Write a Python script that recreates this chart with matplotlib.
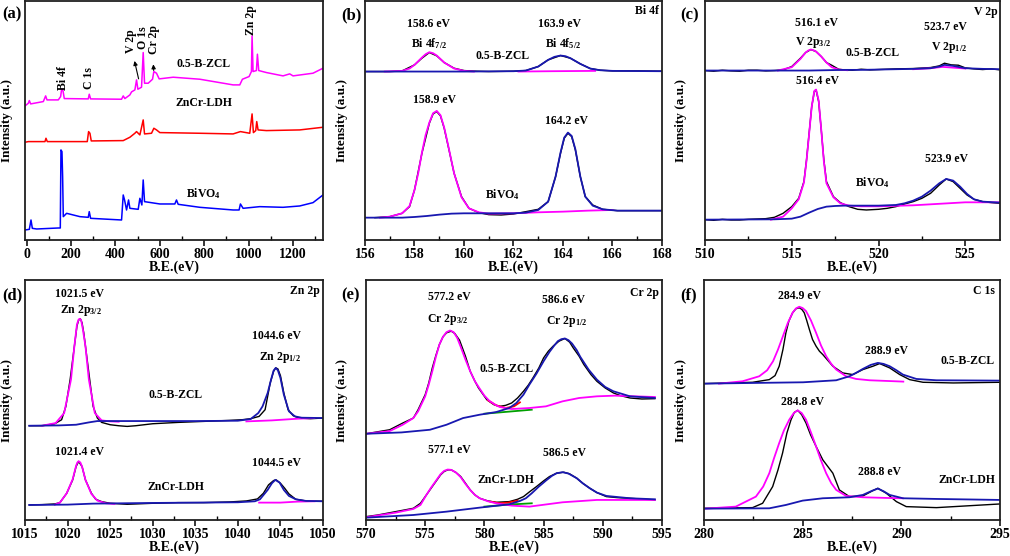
'''
XPS spectra: survey + high resolution Bi 4f, V 2p, Zn 2p, Cr 2p, C 1s.
Values read off the published figure (intensity in arbitrary units).
'''

import numpy as np
import matplotlib
matplotlib.use('Agg')
import matplotlib.pyplot as plt
from matplotlib.ticker import MultipleLocator

plt.rcParams['font.family'] = ['Liberation Serif', 'DejaVu Serif']
plt.rcParams['font.weight'] = 'bold'
plt.rcParams['axes.labelweight'] = 'bold'
plt.rcParams['mathtext.fontset'] = 'custom'
plt.rcParams['mathtext.rm'] = 'Liberation Serif:bold'
plt.rcParams['mathtext.it'] = 'Liberation Serif:bold'
plt.rcParams['mathtext.bf'] = 'Liberation Serif:bold'
plt.rcParams['mathtext.default'] = 'rm'

MAG = '#ff00ff'
BLU = '#1818b0'
RED = '#ff0000'

#%% survey (a)
survey_zcl = [(-7.5, 402), (7.5, 410), (12, 418), (18, 408), (75, 415), (85.5, 432), (91.5, 420),
              (142.5, 420), (153, 430), (157.5, 452), (163.5, 448), (169.5, 424), (277.5, 423),
              (282, 437), (288, 423), (427.5, 422), (435, 432), (442.5, 424), (465, 435),
              (472.5, 444), (487.5, 450), (495, 480), (501, 452), (517.5, 458), (525, 562),
              (531, 470), (547.5, 470), (567, 482), (573, 505), (585, 500), (597, 483),
              (660, 488), (780, 482), (930, 465), (960, 465), (972, 482), (1002, 490),
              (1012.5, 505), (1015.5, 612), (1020, 505), (1035, 508), (1039.5, 557), (1045.5, 508),
              (1080, 502), (1155, 492), (1185, 498), (1200, 492), (1290, 500), (1335, 515)]
survey_ldh = [(-7.5, 293), (7.5, 295), (82.5, 295), (87, 305), (93, 295), (273, 295), (279, 325),
              (285, 320), (291, 297), (435, 298), (465, 308), (487.5, 320), (495, 325), (510, 315),
              (525, 360), (531, 318), (562.5, 320), (573, 335), (585, 330), (600, 322), (780, 320),
              (930, 318), (963, 325), (1005, 320), (1015.5, 378), (1021.5, 322), (1032, 328),
              (1036.5, 355), (1042.5, 330), (1080, 328), (1230, 330), (1335, 338)]
survey_bvo = [(-7.5, 30), (12, 32), (19.5, 60), (25.5, 35), (45, 33), (142.5, 36), (151.5, 36),
              (154.5, 270), (159, 265), (162, 190), (165, 70), (180, 80), (240, 70), (277.5, 68),
              (282, 85), (288, 65), (427.5, 60), (435, 135), (441, 120), (450, 90), (459, 120),
              (465, 95), (502.5, 92), (510, 125), (519, 105), (525, 180), (531, 115), (600, 108),
              (667.5, 108), (675, 120), (682.5, 107), (780, 98), (930, 90), (957, 90), (963, 108),
              (975, 95), (1050, 100), (1155, 98), (1230, 102), (1290, 112), (1335, 135)]

#%% Bi 4f (b)
bi_zcl_raw = [(156.0, 505), (157.0, 505), (157.5, 507), (158.0, 525), (158.3, 545), (158.6, 562),
              (158.9, 552), (159.2, 532), (159.6, 515), (160.0, 508), (160.5, 506), (161.0, 505),
              (162.0, 506), (162.5, 508), (163.0, 520), (163.4, 540), (163.9, 553), (164.3, 545),
              (164.7, 528), (165.1, 514), (165.5, 509), (166.0, 507), (167.0, 507), (168.0, 506)]
bi_zcl_mag = [(156.8, 505), (157.5, 507), (157.8, 514), (158.0, 525), (158.3, 547), (158.45, 557),
              (158.6, 563), (158.75, 560), (158.9, 553), (159.2, 532), (159.6, 514), (160.0, 507),
              (160.4, 505), None, (162.2, 505), (163.5, 506), (165.3, 507)]
bi_zcl_blu = [(156.0, 505), (160.0, 505), (162.0, 506), (162.5, 508), (163.0, 520), (163.4, 540),
              (163.65, 549), (163.9, 553), (164.1, 551), (164.3, 545), (164.7, 528), (165.1, 514),
              (165.5, 509), (166.0, 507), (168.0, 506)]
bi_bvo_raw = [(156.4, 67), (157.0, 70), (157.5, 80), (157.8, 100), (158.0, 150), (158.3, 260),
              (158.6, 350), (158.75, 378), (158.9, 385), (159.05, 372), (159.2, 335), (159.35, 285),
              (159.6, 200), (159.9, 130), (160.2, 95), (160.6, 82), (161.0, 76), (161.5, 75),
              (162.0, 78), (162.5, 85), (163.0, 92), (163.4, 115), (163.7, 190), (163.9, 260),
              (164.05, 305), (164.2, 320), (164.35, 310), (164.5, 270), (164.7, 190), (164.9, 130),
              (165.2, 105), (165.6, 92), (166.2, 88), (167.0, 88), (168.0, 88)]
bi_bvo_mag = [(156.6, 67), (157.0, 70), (157.5, 80), (157.8, 102), (158.0, 150), (158.15, 200),
              (158.3, 262), (158.45, 315), (158.6, 352), (158.75, 380), (158.9, 387), (159.05, 374),
              (159.2, 337), (159.35, 287), (159.6, 200), (159.9, 128), (160.2, 95), (160.6, 83),
              (161.0, 79), (162.0, 80), (163.0, 83), (164.0, 85), (165.0, 88), (166.0, 90)]
bi_bvo_blu = [(156.0, 67), (157.5, 67), (158.0, 69), (158.5, 72), (159.0, 76), (159.5, 79),
              (160.0, 80), (161.0, 80), (162.0, 80), (162.5, 82), (163.0, 90), (163.4, 115),
              (163.7, 190), (163.9, 262), (164.05, 307), (164.2, 322), (164.35, 312), (164.5, 272),
              (164.7, 190), (164.9, 130), (165.2, 103), (165.6, 92), (166.2, 88), (167.0, 88),
              (168.0, 88)]

#%% V 2p (c)
v_zcl_raw = [(510, 508), (510.5, 506), (511, 509), (511.5, 507), (512, 506), (512.5, 509),
             (513, 509), (513.5, 507), (514, 508), (514.5, 510), (515, 520), (515.5, 545),
             (515.8, 562), (516.1, 571), (516.4, 565), (516.7, 550), (517.0, 532), (517.3, 524),
             (517.7, 512), (518, 510), (518.5, 509), (519, 512), (519.5, 510), (520, 511),
             (521, 513), (522, 514), (523, 517), (523.5, 522), (523.8, 530), (524.2, 525),
             (524.6, 524), (525, 516), (525.5, 513), (526, 511), (526.5, 513), (527, 510)]
v_zcl_mag = [(514.2, 508), (515.0, 518), (515.5, 543), (515.8, 562), (515.95, 568), (516.1, 571),
             (516.25, 569), (516.4, 565), (516.7, 550), (517.0, 532), (517.3, 518), (517.7, 511),
             (518.2, 509), None, (522.0, 512), (523.0, 515), (523.7, 519), (524.5, 516),
             (525.0, 514)]
v_zcl_blu = [(510, 508), (514, 508), (516, 508), (517, 509), (518, 510), (519, 510), (520, 511),
             (522, 513), (523, 515), (523.5, 520), (523.8, 525), (524.3, 522), (525, 515),
             (526, 513), (527, 512)]
v_bvo_raw = [(510, 61), (510.5, 59), (511, 62), (511.5, 60), (512, 60), (512.5, 62), (513, 63),
             (513.5, 64), (514, 68), (514.5, 80), (515, 100), (515.4, 125), (515.7, 175),
             (515.85, 240), (516.0, 320), (516.15, 400), (516.3, 445), (516.4, 450), (516.55, 415),
             (516.7, 330), (516.85, 240), (517.0, 175), (517.4, 130), (517.8, 112), (518.3, 100),
             (518.8, 92), (519.3, 90), (520, 92), (520.5, 95), (521, 100), (521.5, 108),
             (522, 115), (522.5, 125), (523, 140), (523.5, 165), (523.9, 183), (524.3, 175),
             (524.7, 155), (525.1, 135), (525.5, 122), (526, 115), (526.5, 112), (527, 110)]
v_bvo_mag = [(513.8, 61), (514.5, 70), (515.0, 95), (515.4, 122), (515.7, 172), (515.85, 238),
             (516.0, 318), (516.15, 400), (516.3, 447), (516.4, 451), (516.55, 418), (516.7, 330),
             (516.85, 235), (517.0, 170), (517.4, 128), (517.8, 110), (518.3, 103), (519, 101),
             (520, 101), (522, 104), (524, 110), (525, 113), (527, 113)]
v_bvo_blu = [(510, 61), (514, 62), (515, 64), (515.5, 70), (516, 82), (516.5, 93), (517, 100),
             (517.5, 102), (518, 103), (520, 103), (521, 105), (521.5, 110), (522, 118),
             (522.5, 130), (523, 148), (523.5, 170), (523.9, 183), (524.3, 178), (524.7, 160),
             (525.1, 138), (525.5, 122), (526, 115), (527, 112)]

#%% Zn 2p (d)
zn_zcl_raw = [(1015.5, 282), (1017, 282), (1018.5, 288), (1019.3, 300), (1019.8, 340),
              (1020.3, 420), (1020.8, 520), (1021.1, 580), (1021.3, 598), (1021.5, 602),
              (1021.7, 590), (1021.9, 560), (1022.2, 500), (1022.6, 420), (1023.0, 340),
              (1023.5, 305), (1024.0, 292), (1025, 285), (1026, 282), (1027, 280), (1028, 282),
              (1030, 288), (1033, 292), (1036, 295), (1039, 298), (1040.5, 300), (1041.5, 303),
              (1042.5, 310), (1043.2, 330), (1043.8, 410), (1044.2, 445), (1044.45, 455),
              (1044.7, 452), (1045.0, 432), (1045.4, 380), (1045.9, 330), (1046.5, 312),
              (1047.2, 305), (1048.5, 303), (1050, 305)]
zn_zcl_mag = [(1017, 282), (1018.6, 290), (1019.6, 320), (1020.4, 420), (1020.8, 520),
              (1021.1, 585), (1021.3, 600), (1021.45, 602), (1021.6, 597), (1021.8, 570),
              (1022.1, 520), (1022.5, 420), (1023.2, 320), (1024, 298), (1025, 295), (1026, 294),
              None, (1041, 295), (1044, 298), (1047, 303), (1049, 305)]
zn_zcl_blu = [(1015.5, 282), (1019, 283), (1021, 285), (1022.5, 292), (1023.5, 296), (1030, 296),
              (1035, 296), (1040, 297), (1041.5, 302), (1042.4, 320), (1042.9, 340),
              (1043.5, 380), (1043.9, 420), (1044.2, 447), (1044.45, 455), (1044.7, 448),
              (1045.0, 425), (1045.4, 375), (1046.0, 325), (1046.7, 310), (1047.5, 306),
              (1050, 305)]
zn_ldh_raw = [(1015.5, 45), (1017, 46), (1018.5, 48), (1019.1, 52), (1019.9, 80), (1020.6, 120),
              (1021.0, 160), (1021.3, 175), (1021.7, 160), (1022.1, 120), (1022.8, 80),
              (1023.3, 62), (1024, 55), (1025, 50), (1027, 47), (1030, 50), (1033, 52),
              (1036, 52), (1039, 54), (1041, 57), (1042.3, 63), (1043.0, 80), (1043.6, 105),
              (1044.2, 118), (1044.5, 120), (1045, 110), (1045.5, 95), (1046, 78), (1046.8, 62),
              (1048, 57), (1050, 56)]
zn_ldh_mag = [(1018.5, 46), (1019.1, 52), (1019.9, 80), (1020.6, 122), (1021.0, 162),
              (1021.15, 172), (1021.3, 176), (1021.5, 172), (1021.7, 160), (1022.1, 120),
              (1022.8, 78), (1023.5, 58), (1024.5, 50), (1025.5, 48), None,
              (1042.5, 52), (1045, 52), (1047, 55), (1049, 56)]
zn_ldh_blu = [(1015.5, 45), (1020, 46), (1023, 49), (1030, 51), (1040, 53), (1042, 56),
              (1042.6, 62), (1043.5, 90), (1044.0, 110), (1044.4, 120), (1044.9, 112),
              (1045.4, 90), (1046.0, 72), (1046.8, 62), (1048, 57), (1050, 56)]

#%% Cr 2p (e)
cr_zcl_raw = [(570.0, 258), (571, 264), (572, 270), (573.1, 290), (574.0, 305), (574.4, 330),
              (575.0, 375), (575.3, 410), (575.6, 455), (575.9, 492), (576.2, 525), (576.5, 548),
              (576.8, 560), (577.2, 565), (577.5, 558), (577.9, 538), (578.4, 490), (578.8, 445),
              (579.2, 415), (579.5, 395), (580.2, 360), (580.8, 345), (581.3, 340), (581.8, 343),
              (582.3, 350), (582.8, 365), (583.3, 385), (583.7, 403), (584.1, 425), (584.6, 455),
              (585.0, 485), (585.4, 505), (585.8, 520), (586.3, 535), (586.8, 543), (587.2, 532),
              (587.5, 515), (588.0, 490), (588.4, 465), (589.0, 435), (589.5, 415), (590.2, 395),
              (590.9, 380), (591.5, 372), (592.3, 365), (593.3, 362), (594.4, 363)]
cr_zcl_mag = [(570, 258), (572, 266), (573.1, 285), (574.0, 305), (574.4, 325), (575.0, 370),
              (575.3, 405), (575.6, 445), (575.9, 488), (576.2, 525), (576.5, 548), (576.8, 562),
              (577.1, 567), (577.4, 562), (577.7, 545), (578.0, 518), (578.4, 480), (578.8, 445),
              (579.2, 415), (579.6, 393), (580.0, 372), (580.4, 357), (580.9, 345), (581.3, 338),
              (582.3, 332), (583.8, 335), (585.2, 340), (586.6, 355), (588.0, 365), (589.5, 370),
              (591.0, 372), (594.4, 368)]
cr_zcl_blu = [(570, 258), (573, 262), (575.4, 270), (576.8, 285), (578.2, 305), (579.6, 315),
              (581.0, 323), (582.1, 335), (582.7, 350), (583.3, 375), (583.8, 405), (584.4, 438),
              (585.0, 475), (585.5, 503), (585.9, 522), (586.2, 535), (586.5, 541), (586.8, 543),
              (587.1, 538), (587.4, 528), (587.8, 508), (588.1, 488), (588.8, 450), (589.5, 420),
              (590.2, 398), (590.9, 385), (592.3, 370), (594.4, 365)]
cr_zcl_env = [(580.3, 358), (581.0, 343), (581.8, 335), (582.5, 340), (583.0, 352)]
cr_zcl_bg = [(580.0, 318), (582.0, 324), (584.0, 330)]
cr_ldh_raw = [(570, 10), (571, 15), (572.5, 25), (574, 35), (574.6, 50), (575.1, 75), (575.5, 95),
              (575.9, 115), (576.3, 135), (576.6, 145), (576.9, 150), (577.2, 150), (577.6, 142),
              (578.0, 130), (578.4, 110), (578.8, 90), (579.2, 75), (579.6, 65), (580.3, 57),
              (581.0, 53), (582.1, 55), (582.8, 62), (583.3, 70), (583.8, 84), (584.4, 100),
              (585.0, 117), (585.5, 130), (586.1, 140), (586.7, 143), (587.2, 138), (587.8, 125),
              (588.3, 110), (588.9, 95), (589.5, 82), (590.3, 70), (591.2, 67), (592.3, 65),
              (593.5, 62), (594.4, 60)]
cr_ldh_mag = [(570, 8), (572.5, 22), (574, 33), (574.6, 45), (575.1, 75), (575.5, 97),
              (575.9, 117), (576.3, 137), (576.6, 147), (576.9, 151), (577.2, 150), (577.6, 142),
              (578.0, 128), (578.4, 108), (578.8, 90), (579.2, 75), (579.6, 65), (580.3, 56),
              (581.0, 50), (582.3, 43), (583.8, 40), (586.6, 53), (589.5, 60), (594.4, 60)]
cr_ldh_blu = [(570, 7), (574, 15), (576.8, 25), (579.6, 37), (582.1, 47), (583.0, 57),
              (583.5, 65), (584.0, 80), (584.6, 100), (585.2, 118), (585.7, 132), (586.1, 140),
              (586.6, 143), (587.1, 139), (587.8, 125), (588.3, 110), (588.9, 95), (589.5, 82),
              (590.3, 72), (592.3, 65), (594.4, 62)]
cr_ldh_env = [(580.5, 55), (581.3, 50), (582.0, 52), (582.8, 58)]
cr_ldh_bg = [(580.0, 40), (582.0, 46), (584.0, 50)]

#%% C 1s (f)
c_zcl_raw = [(280, 408), (282.46, 412), (283.31, 420), (283.6, 432), (283.81, 460), (284.0, 510),
             (284.15, 560), (284.3, 595), (284.49, 620), (284.66, 632), (284.83, 635), (284.96, 630),
             (285.08, 620), (285.2, 598), (285.34, 570), (285.5, 540), (285.68, 520), (285.85, 505),
             (286.02, 495), (286.53, 460), (287.03, 440), (287.54, 435), (288.05, 450),
             (288.56, 460), (288.9, 468), (289.41, 455), (289.92, 435), (290.42, 420),
             (291.1, 412), (292.63, 410), (295, 412)]
c_zcl_mag = [(280.76, 408), (281.95, 415), (282.8, 430), (283.2, 448), (283.5, 475), (283.75, 510),
             (284.0, 550), (284.25, 590), (284.49, 620), (284.66, 633), (284.83, 638), (285.0, 634),
             (285.17, 625), (285.42, 597), (285.68, 560), (285.93, 522), (286.19, 490),
             (286.45, 467), (286.7, 450), (287.2, 430), (287.71, 422), (288.39, 418), (289.7, 415),
             (290.1, 414)]
c_zcl_blu = [(280, 408), (285.02, 412), (286.7, 418), (287.37, 430), (287.7, 440), (288.05, 452),
             (288.45, 464), (288.81, 470), (289.1, 467), (289.41, 460), (289.75, 448),
             (290.08, 435), (290.76, 422), (291.78, 418), (295, 417)]
c_ldh_raw = [(280, 35), (282.46, 37), (282.97, 50), (283.48, 100), (283.75, 150), (283.98, 200),
             (284.2, 260), (284.41, 300), (284.58, 322), (284.75, 328), (284.95, 315), (285.17, 290),
             (285.4, 255), (285.68, 220), (286.02, 180), (286.53, 140), (286.86, 90), (287.37, 70),
             (288.05, 72), (288.56, 88), (288.81, 95), (289.24, 80), (289.75, 55), (290.25, 40),
             (291.78, 37), (295, 48)]
c_ldh_mag = [(280.08, 34), (281.61, 40), (282.63, 70), (283.0, 100), (283.31, 140), (283.55, 185),
             (283.81, 230), (284.05, 268), (284.32, 300), (284.55, 320), (284.75, 328),
             (284.95, 320), (285.17, 300), (285.42, 262), (285.68, 220), (285.93, 178),
             (286.19, 140), (286.45, 110), (286.7, 90), (287.2, 72), (288.05, 68), (289.24, 66),
             (290.08, 65)]
c_ldh_blu = [(280, 34), (283.31, 35), (284.15, 45), (285.0, 58), (286.02, 65), (287.37, 68),
             (288.05, 75), (288.5, 87), (288.81, 94), (289.1, 86), (289.41, 75), (290.08, 65),
             (291.78, 63), (295, 60)]


def xy(pts):
    a = np.array([(np.nan, np.nan) if p is None else p for p in pts], dtype=float)
    return a[:, 0], a[:, 1]


fig = plt.figure(figsize=(10.1, 5.56), dpi=100)


def px_axes(l, t, r, b):
    return fig.add_axes([l / 1010, 1 - b / 556, (r - l) / 1010, (b - t) / 556])


def setup(ax, xlim, major, minor, ylab_x):
    ax.set_xlim(*xlim)
    ax.set_ylim(0, 718)
    ax.xaxis.set_major_locator(MultipleLocator(major))
    ax.xaxis.set_minor_locator(MultipleLocator(minor))
    ax.set_yticks([])
    ax.tick_params(axis='x', which='major', direction='out', length=4, width=1.1,
                   pad=1.5, labelsize=10)
    ax.tick_params(axis='x', which='minor', direction='in', length=3, width=1.0)
    for lbl in ax.get_xticklabels():
        lbl.set_fontweight('bold')
    for s in ax.spines.values():
        s.set_linewidth(1.3)
        s.set_color('#202020')
    ax.set_xlabel('B.E.(eV)', fontsize=10, fontweight='bold', labelpad=0)
    ax.set_ylabel('Intensity (a.u.)', fontsize=9.5, fontweight='bold')
    ax.yaxis.set_label_coords(ylab_x, 0.5)


def draw(ax, curves):
    for pts, c, lw in curves:
        x, y = xy(pts)
        ax.plot(x, y, color=c, lw=lw)


def label(ax, items, size=8.5):
    for x, y, s, *rest in items:
        ha = rest[0] if rest else 'center'
        ax.text(x, y, s, ha=ha, va='center', fontsize=size, fontweight='bold')


# (a) survey
ax = px_axes(25, 0.5, 323, 240)
setup(ax, (-7.5, 1335), 200, 100, -0.04)
draw(ax, [(survey_zcl, MAG, 1.1), (survey_ldh, RED, 1.1), (survey_bvo, '#0000ff', 1.1)])
label(ax, [(798, 528, '0.5-B-ZCL'), (798, 410, 'ZnCr-LDH'), (798, 140, 'BiVO$_4$')])
for x, y, s in [(165, 485, 'Bi 4f'), (282, 485, 'C 1s'), (468, 595, 'V 2p'),
                (525, 608, 'O 1s'), (575, 602, 'Cr 2p'), (1012, 658, 'Zn 2p')]:
    ax.text(x, y, s, rotation=90, ha='center', va='center', fontsize=8.5, fontweight='bold')
ax.annotate('', xy=(483, 545), xytext=(507, 475),
            arrowprops=dict(arrowstyle='-|>', color='k', lw=0.8, mutation_scale=6))
ax.annotate('', xy=(570, 535), xytext=(573, 500),
            arrowprops=dict(arrowstyle='-|>', color='k', lw=0.8, mutation_scale=6))

# (b) Bi 4f
ax = px_axes(365, 0.5, 662, 240)
setup(ax, (156, 168), 2, 1, -0.057)
draw(ax, [(bi_zcl_raw, 'k', 1.0), (bi_zcl_mag, MAG, 1.3), (bi_zcl_blu, BLU, 1.3),
          (bi_bvo_raw, 'k', 1.0), (bi_bvo_mag, MAG, 1.3), (bi_bvo_blu, BLU, 1.3)])
label(ax, [(158.58, 647, '158.6 eV'), (158.58, 590, 'Bi 4f$_{7/2}$'), (161.56, 552, '0.5-B-ZCL'),
           (163.86, 647, '163.9 eV'), (164.0, 590, 'Bi 4f$_{5/2}$'), (167.86, 687, 'Bi 4f', 'right'),
           (158.82, 420, '158.9 eV'), (164.16, 358, '164.2 eV'), (161.56, 137, 'BiVO$_4$')])

# (c) V 2p
ax = px_axes(705, 0.5, 1000, 240)
setup(ax, (510, 527), 5, 2.5, -0.061)
draw(ax, [(v_zcl_raw, 'k', 1.0), (v_zcl_mag, MAG, 1.3), (v_zcl_blu, BLU, 1.3),
          (v_bvo_raw, 'k', 1.0), (v_bvo_mag, MAG, 1.3), (v_bvo_blu, BLU, 1.3)])
label(ax, [(516.4, 650, '516.1 eV'), (516.2, 593, 'V 2p$_{3/2}$'), (519.66, 560, '0.5-B-ZCL'),
           (523.85, 638, '523.7 eV'), (524.08, 578, 'V 2p$_{1/2}$'), (526.86, 683, 'V 2p', 'right'),
           (516.5, 476, '516.4 eV'), (523.9, 243, '523.9 eV'), (519.66, 173, 'BiVO$_4$')])

# (d) Zn 2p
ax = px_axes(25, 280, 323, 520)
setup(ax, (1015, 1050), 5, 2.5, -0.04)
draw(ax, [(zn_zcl_raw, 'k', 1.0), (zn_zcl_mag, MAG, 1.3), (zn_zcl_blu, BLU, 1.3),
          (zn_ldh_raw, 'k', 1.0), (zn_ldh_mag, MAG, 1.3), (zn_ldh_blu, BLU, 1.3)])
label(ax, [(1021.36, 675, '1021.5 eV'), (1021.55, 628, 'Zn 2p$_{3/2}$'),
           (1044.5, 550, '1044.6 eV'), (1044.9, 485, 'Zn 2p$_{1/2}$'), (1049.6, 685, 'Zn 2p', 'right'),
           (1032.7, 375, '0.5-B-ZCL'), (1021.36, 202, '1021.4 eV'), (1044.5, 170, '1044.5 eV'),
           (1032.7, 100, 'ZnCr-LDH')])

# (e) Cr 2p
ax = px_axes(366, 280, 662, 520)
setup(ax, (570, 595), 5, 2.5, -0.06)
draw(ax, [(cr_zcl_raw, 'k', 1.0), (cr_zcl_bg, '#00a000', 1.3), (cr_zcl_env, RED, 1.3),
          (cr_zcl_mag, MAG, 1.3), (cr_zcl_blu, BLU, 1.3),
          (cr_ldh_raw, 'k', 1.0), (cr_ldh_bg, '#00a000', 1.3), (cr_ldh_env, RED, 1.3),
          (cr_ldh_mag, MAG, 1.3), (cr_ldh_blu, BLU, 1.3)])
label(ax, [(577.06, 667, '577.2 eV'), (576.9, 600, 'Cr 2p$_{3/2}$'), (586.67, 657, '586.6 eV'),
           (586.95, 593, 'Cr 2p$_{1/2}$'), (594.7, 680, 'Cr 2p', 'right'), (581.86, 453, '0.5-B-ZCL'),
           (577.06, 210, '577.1 eV'), (586.8, 200, '586.5 eV'), (581.86, 120, 'ZnCr-LDH')])

# (f) C 1s
ax = px_axes(704, 280, 1000, 520)
setup(ax, (280, 295), 5, 2.5, -0.057)
draw(ax, [(c_zcl_raw, 'k', 1.0), (c_zcl_mag, MAG, 1.3), (c_zcl_blu, BLU, 1.3),
          (c_ldh_raw, 'k', 1.0), (c_ldh_mag, MAG, 1.3), (c_ldh_blu, BLU, 1.3)])
label(ax, [(284.83, 670, '284.9 eV'), (289.27, 507, '288.9 eV'), (294.75, 477, '0.5-B-ZCL', 'right'),
           (294.75, 685, 'C 1s', 'right'), (285.0, 352, '284.8 eV'), (288.9, 145, '288.8 eV'),
           (294.75, 120, 'ZnCr-LDH', 'right')])

for x, y, s in [(2, 14, '(a)'), (341, 15, '(b)'), (680, 15, '(c)'),
                (2, 295, '(d)'), (341, 295, '(e)'), (680, 295, '(f)')]:
    fig.text(x / 1010, 1 - y / 556, s, ha='left', va='center', fontsize=12, fontweight='bold')

fig.savefig('out.png', dpi=100)
